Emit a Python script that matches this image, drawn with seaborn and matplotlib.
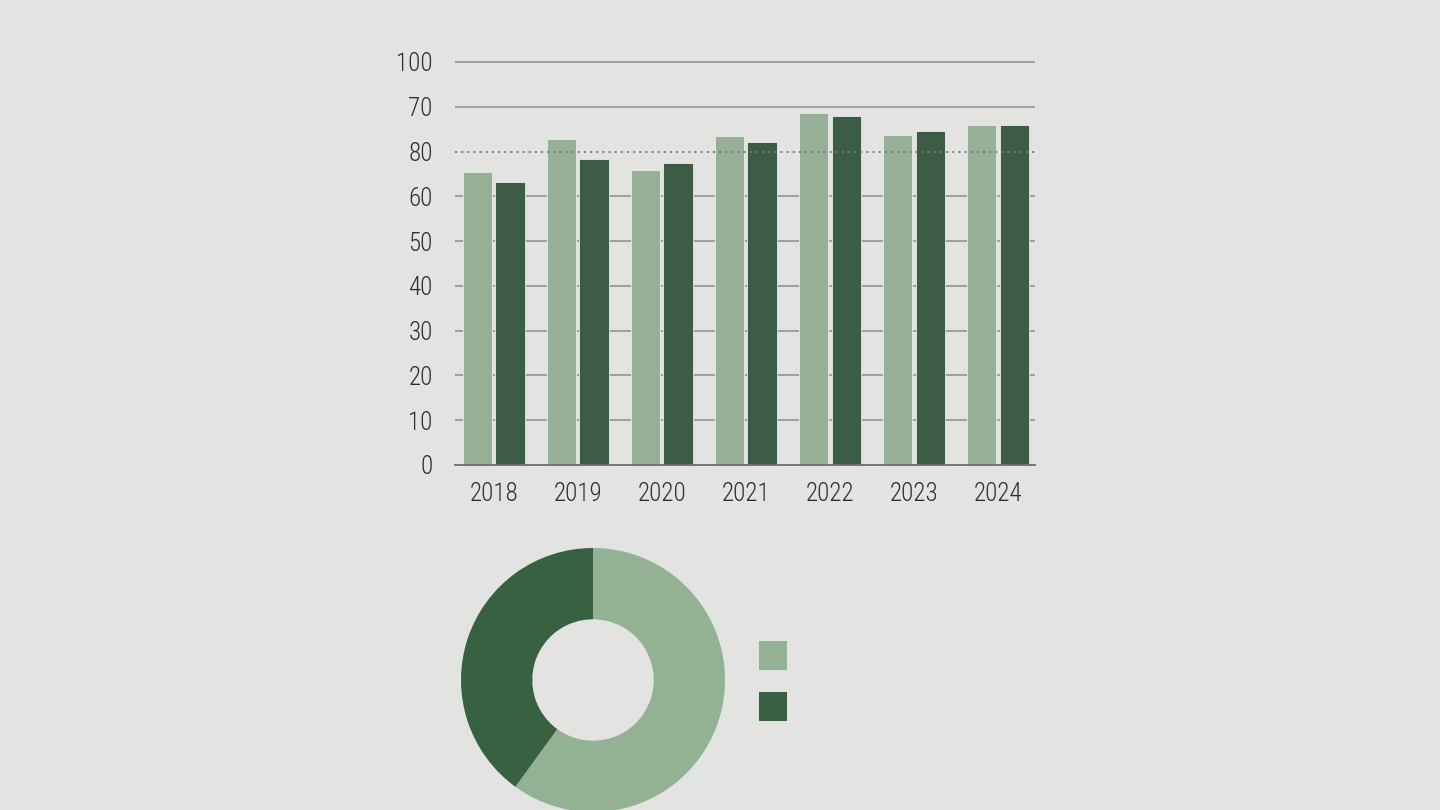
import numpy as np
import pandas as pd
import seaborn as sns
import matplotlib.pyplot as plt
from matplotlib.patches import Patch

years = ["2018", "2019", "2020", "2021", "2022", "2023", "2024"]
series_a = [65.5, 72.8, 65.8, 73.4, 78.7, 73.8, 76.0]
series_b = [63.2, 68.3, 67.4, 72.1, 78.0, 74.5, 76.0]
ytick_pos = [0, 10, 20, 30, 40, 50, 60, 70, 80, 90]
ytick_labels = ["0", "10", "20", "30", "40", "50", "60", "80", "70", "100"]
donut_values = [60, 40]

light = "#93b293"
dark = "#386142"
bg = "#e3e3e1"

sns.set_theme(style="white")
plt.rcParams["font.family"] = ["Roboto Condensed", "Liberation Sans Narrow",
                               "Noto Sans CJK JP", "DejaVu Sans"]

df = pd.DataFrame({
    "year": years * 2,
    "series": ["a"] * len(years) + ["b"] * len(years),
    "value": series_a + series_b,
})

fig = plt.figure(figsize=(14.4, 8.1), dpi=100)
fig.patch.set_facecolor(bg)

ax = fig.add_axes([455 / 1440, 1 - 465 / 810, 580 / 1440, 412 / 810])
ax.set_facecolor(bg)
sns.barplot(data=df, x="year", y="value", hue="series", palette=[light, dark],
            width=0.78, gap=0.1, legend=False, ax=ax,
            edgecolor="#e6ece4", linewidth=0.6, zorder=2)

ax.set_ylim(0, 92)
ax.set_xlim(-0.46, 6.44)
ax.set_yticks(ytick_pos)
ax.set_yticklabels(ytick_labels)
for y in ytick_pos[1:]:
    if y == 70:
        ax.axhline(y, color="#7a7a7a", lw=1.3, ls=(0, (1.2, 2.2)), zorder=3)
    else:
        ax.axhline(y, color="#8c8c8c", lw=1.1, zorder=1)
ax.set_xlabel("")
ax.set_ylabel("")
for s in ["top", "right", "left"]:
    ax.spines[s].set_visible(False)
ax.spines["bottom"].set_color("#6e6e6e")
ax.spines["bottom"].set_linewidth(1.3)
ax.tick_params(axis="both", length=0, labelsize=18, colors="#2e2e2e")
ax.tick_params(axis="y", pad=16)
ax.tick_params(axis="x", pad=12)
for lbl in ax.get_xticklabels() + ax.get_yticklabels():
    lbl.set_fontweight("light")

# donut
ax2 = fig.add_axes([461 / 1440, -2 / 810, 264 / 1440, 264 / 810])
ax2.pie(donut_values, colors=[light, dark], startangle=90, counterclock=False,
        wedgeprops=dict(width=0.54, linewidth=0), radius=1.0)
ax2.set_xlim(-1, 1)
ax2.set_ylim(-1, 1)
ax2.set_aspect("equal")
ax2.axis("off")

handles = [Patch(facecolor=light, edgecolor="none"), Patch(facecolor=dark, edgecolor="none")]
fig.legend(handles, ["", ""], loc="upper left", bbox_to_anchor=(759 / 1440, 1 - 641 / 810),
           frameon=False, fontsize=20, handlelength=1.0, handleheight=1.25,
           labelspacing=0.75, borderpad=0, borderaxespad=0, handletextpad=0)

fig.savefig("out.png", dpi=100, facecolor=bg)
